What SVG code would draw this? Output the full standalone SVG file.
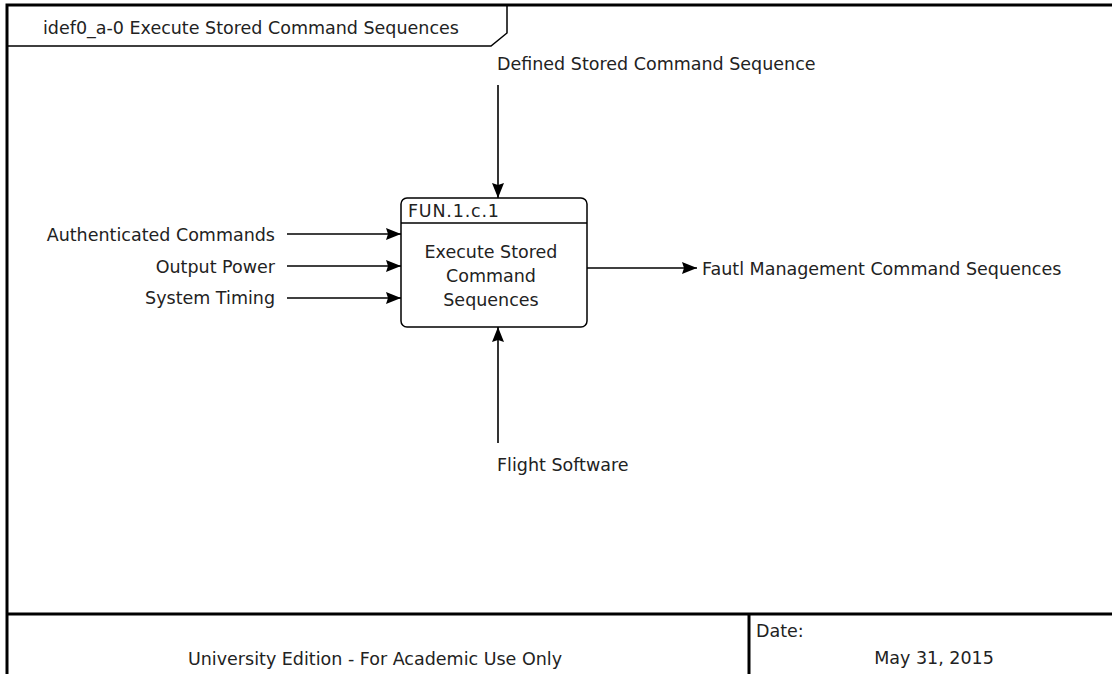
<svg xmlns="http://www.w3.org/2000/svg" width="1112" height="674" viewBox="0 0 1112 674">
  <defs>
    <marker id="arr" viewBox="0 0 15 12" refX="15" refY="6" markerWidth="15" markerHeight="12" markerUnits="userSpaceOnUse" orient="auto">
      <path d="M0,0 L15,6 L0,12 L2,6 Z" fill="#000"/>
    </marker>
    <style>
      text { font-family: "DejaVu Sans", Verdana, sans-serif; font-size: 17.5px; fill: #222; }
      .frame { stroke: #000; stroke-width: 3; fill: none; }
      .thin { stroke: #000; stroke-width: 1.5; fill: none; }
      .conn { stroke: #000; stroke-width: 1.6; fill: none; marker-end: url(#arr); }
      .mid { text-anchor: middle; }
      .end { text-anchor: end; }
    </style>
  </defs>
  <rect x="0" y="0" width="1112" height="674" fill="#fff"/>

  <g id="frame">
    <path class="frame" d="M7,674 L7,5 L1112,5"/>
    <path class="thin" d="M7,46 L491,46 L507,33 L507,5"/>
    <text x="43" y="34">idef0_a-0 Execute Stored Command Sequences</text>
  </g>

  <g id="footer">
    <line class="frame" x1="7" y1="614" x2="1112" y2="614"/>
    <line class="frame" x1="749" y1="614" x2="749" y2="674"/>
    <text x="375" y="665" class="mid">University Edition - For Academic Use Only</text>
    <text x="756" y="637">Date:</text>
    <text x="934" y="664" class="mid">May 31, 2015</text>
  </g>

  <g id="node-FUN-1-c-1">
    <rect class="thin" x="401" y="198" width="186" height="129" rx="6" ry="6" fill="#fff"/>
    <line class="thin" x1="401" y1="223" x2="587" y2="223"/>
    <text x="408" y="217" letter-spacing="0.8">FUN.1.c.1</text>
    <text x="491" y="258" class="mid">Execute Stored</text>
    <text x="491" y="282" class="mid">Command</text>
    <text x="491" y="306" class="mid">Sequences</text>
  </g>

  <g id="connectors">
    <line class="conn" x1="498" y1="85" x2="498" y2="198"/>
    <line class="conn" x1="287" y1="234" x2="401" y2="234"/>
    <line class="conn" x1="287" y1="266" x2="401" y2="266"/>
    <line class="conn" x1="287" y1="298" x2="401" y2="298"/>
    <line class="conn" x1="587" y1="268" x2="697" y2="268"/>
    <line class="conn" x1="498" y1="443" x2="498" y2="327"/>
  </g>

  <g id="labels">
    <text x="497" y="70">Defined Stored Command Sequence</text>
    <text x="275" y="241" class="end">Authenticated Commands</text>
    <text x="275" y="273" class="end">Output Power</text>
    <text x="275" y="304" class="end">System Timing</text>
    <text x="702" y="275">Fautl Management Command Sequences</text>
    <text x="497" y="471">Flight Software</text>
  </g>
</svg>
